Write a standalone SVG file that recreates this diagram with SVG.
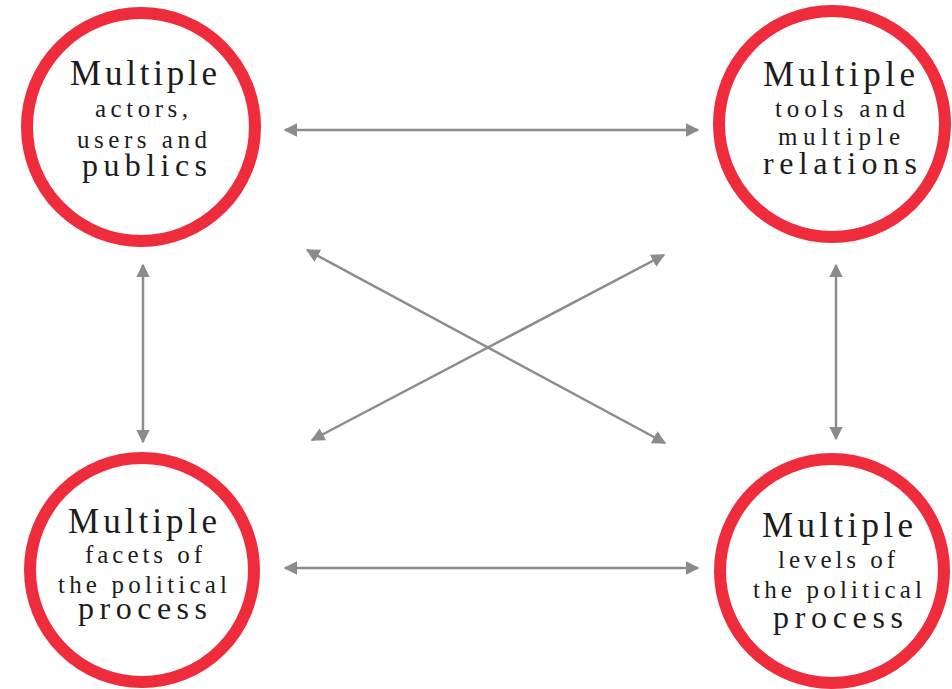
<svg xmlns="http://www.w3.org/2000/svg" width="952" height="689" viewBox="0 0 952 689">
<style>
.ring{fill:#fff;stroke:#ee2c3c;stroke-width:12}
.t{font-family:"Liberation Serif","DejaVu Serif",serif;fill:#1c1c1c;}
.big{font-size:35px}
.sm{font-size:25px}
.lg{font-size:32px}
.c{fill:none;stroke:#8c8c8c;stroke-width:2.5}
</style>
<defs>
<marker id="ah" viewBox="0 0 10 10" refX="9" refY="5" markerWidth="5.5" markerHeight="5.5" markerUnits="strokeWidth" orient="auto-start-reverse">
<path d="M0,0 L10,5 L0,10 Z" fill="#8c8c8c"/>
</marker>
</defs>
<rect width="952" height="689" fill="#fff"/>
<g id="connectors">
<line class="c" x1="285" y1="130" x2="698" y2="130" marker-start="url(#ah)" marker-end="url(#ah)"/>
<line class="c" x1="285" y1="568" x2="698" y2="568" marker-start="url(#ah)" marker-end="url(#ah)"/>
<line class="c" x1="143" y1="265" x2="143" y2="442" marker-start="url(#ah)" marker-end="url(#ah)"/>
<line class="c" x1="836" y1="265" x2="836" y2="439" marker-start="url(#ah)" marker-end="url(#ah)"/>
<line class="c" x1="307" y1="250" x2="665" y2="443" marker-start="url(#ah)" marker-end="url(#ah)"/>
<line class="c" x1="312" y1="440" x2="664" y2="255" marker-start="url(#ah)" marker-end="url(#ah)"/>
</g>
<g id="node-actors">
<circle class="ring" cx="141" cy="127" r="114"/>
<text class="t big" x="70" y="85" textLength="147" lengthAdjust="spacing">Multiple</text>
<text class="t sm" x="95" y="117" textLength="93" lengthAdjust="spacing">actors,</text>
<text class="t sm" x="77" y="148" textLength="130" lengthAdjust="spacing">users and</text>
<text class="t lg" x="82" y="176" textLength="125" lengthAdjust="spacing">publics</text>
</g>
<g id="node-tools">
<circle class="ring" cx="832" cy="124" r="113"/>
<text class="t big" x="763" y="86" textLength="152" lengthAdjust="spacing">Multiple</text>
<text class="t sm" x="775" y="117" textLength="130" lengthAdjust="spacing">tools and</text>
<text class="t sm" x="778" y="145" textLength="122" lengthAdjust="spacing">multiple</text>
<text class="t lg" x="763" y="174" textLength="154" lengthAdjust="spacing">relations</text>
</g>
<g id="node-facets">
<circle class="ring" cx="142" cy="570" r="112"/>
<text class="t big" x="68" y="533" textLength="149" lengthAdjust="spacing">Multiple</text>
<text class="t sm" x="85" y="563" textLength="117" lengthAdjust="spacing">facets of</text>
<text class="t sm" x="58" y="593" textLength="169" lengthAdjust="spacing">the political</text>
<text class="t lg" x="78" y="619" textLength="129" lengthAdjust="spacing">process</text>
</g>
<g id="node-levels">
<circle class="ring" cx="832" cy="571" r="112"/>
<text class="t big" x="762" y="537" textLength="151" lengthAdjust="spacing">Multiple</text>
<text class="t sm" x="778" y="568" textLength="117" lengthAdjust="spacing">levels of</text>
<text class="t sm" x="753" y="598" textLength="169" lengthAdjust="spacing">the political</text>
<text class="t lg" x="773" y="628" textLength="130" lengthAdjust="spacing">process</text>
</g>
</svg>
